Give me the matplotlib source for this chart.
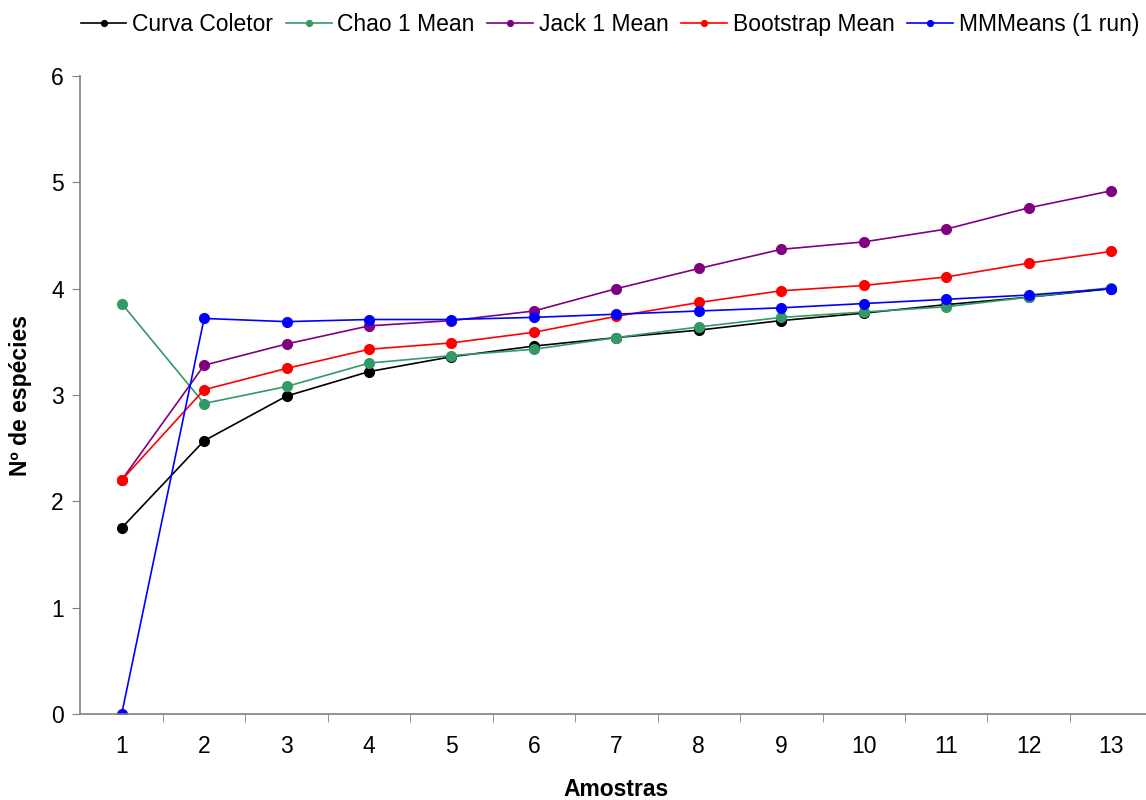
import numpy as np
import matplotlib
matplotlib.use("Agg")
from matplotlib import pyplot as plt

plt.rcParams['font.family'] = ['Liberation Sans', 'DejaVu Sans']

amostras = list(range(1, 14))
curva_coletor = [1.75, 2.57, 2.99, 3.22, 3.36, 3.46, 3.54, 3.61, 3.70, 3.77, 3.85, 3.92, 4.00]
chao1 = [3.86, 2.92, 3.08, 3.30, 3.37, 3.43, 3.54, 3.64, 3.73, 3.78, 3.83, 3.92, 4.01]
jack1 = [2.20, 3.28, 3.48, 3.65, 3.70, 3.79, 4.00, 4.19, 4.37, 4.44, 4.56, 4.76, 4.92]
bootstrap = [2.20, 3.05, 3.25, 3.43, 3.49, 3.59, 3.74, 3.87, 3.98, 4.03, 4.11, 4.24, 4.35]
mmmeans = [0.00, 3.72, 3.69, 3.71, 3.71, 3.73, 3.76, 3.79, 3.82, 3.86, 3.90, 3.94, 4.00]

series = [
    ("Curva Coletor", curva_coletor, "#000000"),
    ("Chao 1 Mean", chao1, "#339966"),
    ("Jack 1 Mean", jack1, "#800080"),
    ("Bootstrap Mean", bootstrap, "#ff0000"),
    ("MMMeans (1 run)", mmmeans, "#0000ff"),
]

fs = 16.5

fig = plt.figure(figsize=(11.46, 8.0), dpi=100)
ax = fig.add_axes([0.0702, 0.1075, 0.9353, 0.7975])

for name, vals, col in series:
    ax.plot(amostras, vals, color=col, lw=1.2, marker='o', ms=7, label=name)

ax.set_xlim(0.5, 13.5)
ax.set_ylim(0, 6)
ax.set_yticks(np.arange(0, 7, 1))
ax.set_xticks(amostras)
ax.set_xticks(np.arange(1.5, 13, 1), minor=True)
ax.tick_params(axis='x', which='major', length=0, pad=15, labelsize=fs)
ax.tick_params(axis='x', which='minor', length=6, color='#808080', direction='out')
ax.tick_params(axis='y', length=6, color='#808080', direction='out', pad=6, labelsize=fs)

for s in ['top', 'right']:
    ax.spines[s].set_visible(False)
for s in ['left', 'bottom']:
    ax.spines[s].set_color('#808080')
    ax.spines[s].set_linewidth(1.2)
ax.spines['bottom'].set_clip_on(False)

# axis titles placed like the original
fig.text(616 / 1146, 1 - 790 / 800, "Amostras", fontsize=fs, fontweight='bold',
         ha='center', va='center')
fig.text(21 / 1146, 1 - 395 / 800, "Nº de espécies", fontsize=fs, fontweight='bold',
         ha='center', va='center', rotation=90)

leg = fig.legend(loc='upper right', bbox_to_anchor=(1.012, 1.01), ncol=5, frameon=False,
                 fontsize=fs, handlelength=2.0, handletextpad=0.25, columnspacing=0.55,
                 markerscale=0.6)

fig.savefig("out.png", dpi=100)
